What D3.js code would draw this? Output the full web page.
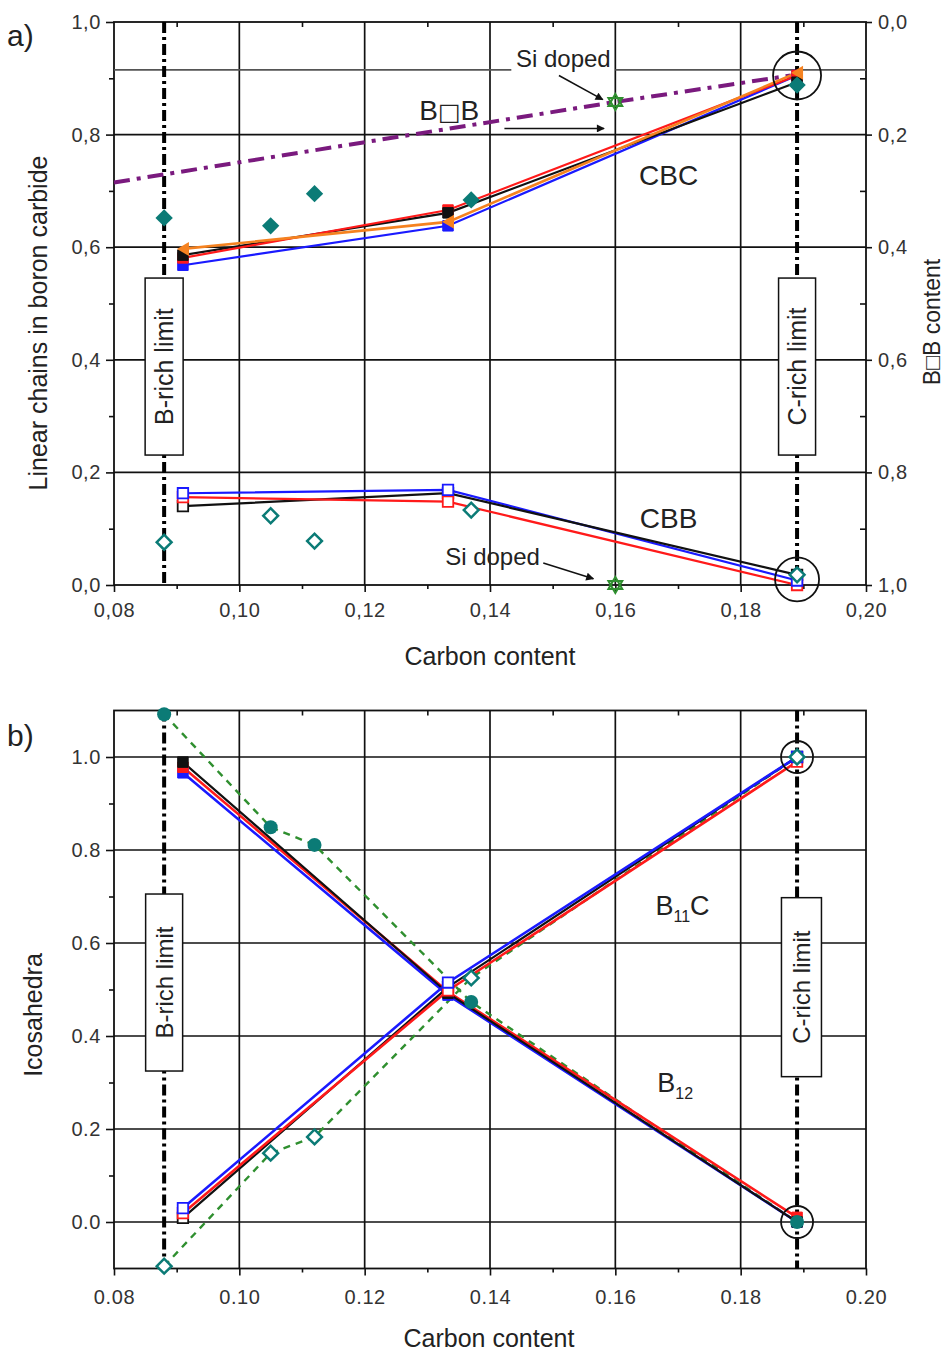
<!DOCTYPE html>
<html><head><meta charset="utf-8">
<script src="https://cdn.jsdelivr.net/npm/d3@7"></script>
<style>body{margin:0;background:#fff}svg{display:block}text{font-family:"Liberation Sans",Arial,sans-serif}</style>
</head><body>
<script>
// ---------- data ----------
const xTicks = [0.08,0.10,0.12,0.14,0.16,0.18,0.20];
const xMinor = [0.09,0.11,0.13,0.15,0.17,0.19];
const yTicksA = [0,0.2,0.4,0.6,0.8,1.0];
const yMinorA = [0.1,0.3,0.5,0.7,0.9];
const yTicksB = [0,0.2,0.4,0.6,0.8,1.0];
const yMinorB = [0.1,0.3,0.5,0.7,0.9];

const calcX = [0.091,0.1333,0.189];
const cbcBlue   = [0.568,0.638,0.905];
const cbcBlack  = [0.586,0.661,0.893];
const cbcRed    = [0.581,0.666,0.905];
const cbcOrange = [0.597,0.645,0.910];
const cbbBlue   = [0.163,0.169,0.008];
const cbbBlack  = [0.140,0.163,0.018];
const cbbRed    = [0.156,0.148,0.000];

const expX = [0.088,0.105,0.112,0.137,0.189];
const cbcExp = [0.652,0.638,0.695,0.684,0.888];
const cbbExp = [0.076,0.123,0.078,0.133,0.018];

const siX = 0.16, siCBC = 0.858, siCBB = 0.0;
const bobX = [0.08,0.16,0.188];
const bobVal = [0.285,0.142,0.095];   // right axis (B□B content)
const siLine = 0.915;

const bRich = 0.088, cRich = 0.189;

const b12Blue  = [0.966,0.488,0.0];
const b12Red   = [0.978,0.495,0.01];
const b12Black = [0.989,0.492,0.0];
const b11cBlue  = [0.030,0.515,1.0];
const b11cRed   = [0.019,0.498,0.99];
const b11cBlack = [0.009,0.505,1.0];
const b12Exp  = [1.092,0.849,0.811,0.473,0.0];
const b11cExp = [-0.095,0.148,0.183,0.525,1.0];

// ---------- setup ----------
const W=949,H=1352;
const svg=d3.select("body").append("svg").attr("width",W).attr("height",H);
const defs=svg.append("defs");
defs.append("marker").attr("id","arr").attr("viewBox","0 0 10 10").attr("refX",9).attr("refY",5)
 .attr("markerWidth",13).attr("markerHeight",8).attr("markerUnits","userSpaceOnUse").attr("orient","auto")
 .append("path").attr("d","M0,0L10,5L0,10z").attr("fill","#111");

const x = d3.scaleLinear([0.08,0.20],[114,866]);
const yA = d3.scaleLinear([0,1],[585,22]);
const yR = d3.scaleLinear([0,1],[22,585]);
const yB = d3.scaleLinear([-0.1,1.1],[1268.5,710.5]);

const TEAL="#0b7b76", GREEN="#2f8f2f", PURPLE="#7a1a7e", ORANGE="#f58220";
const comma = d=>d3.format(".2f")(d).replace(".",",");
const comma1 = d=>d3.format(".1f")(d).replace(".",",");
const dot2 = d3.format(".2f"), dot1 = d3.format(".1f");
const TICKFS = 20;

function styleAxis(g){
  g.selectAll("path.domain").remove();
  g.selectAll("line").attr("stroke","#111").attr("stroke-width",1.6);
  g.selectAll("text").attr("font-size",TICKFS).attr("fill","#333").attr("letter-spacing","0.6px")
   .attr("font-family","Liberation Sans, Arial, sans-serif");
}

function panel(y, top, bottom, yT, yM, xFmt, yFmt, gridY, xPad){
  const g=svg.append("g");
  g.selectAll(".gx").data(xTicks.slice(1,-1)).join("line")
   .attr("x1",d=>x(d)).attr("x2",d=>x(d)).attr("y1",top).attr("y2",bottom)
   .attr("stroke","#111").attr("stroke-width",1.7);
  g.selectAll(".gy").data(gridY).join("line")
   .attr("x1",114).attr("x2",866).attr("y1",d=>y(d)).attr("y2",d=>y(d))
   .attr("stroke","#111").attr("stroke-width",1.7);
  g.append("g").attr("transform",`translate(0,${bottom})`)
   .call(d3.axisBottom(x).tickValues(xTicks).tickSize(7).tickSizeOuter(0).tickPadding(xPad).tickFormat(xFmt)).call(styleAxis);
  g.append("g").attr("transform",`translate(0,${bottom})`)
   .call(d3.axisBottom(x).tickValues(xMinor).tickSize(4).tickFormat("")).call(styleAxis);
  g.append("g").attr("transform",`translate(0,${top})`)
   .call(d3.axisBottom(x).tickValues(xMinor).tickSize(5).tickFormat("")).call(styleAxis);
  g.append("g").attr("transform",`translate(114,0)`)
   .call(d3.axisLeft(y).tickValues(yT).tickSize(8).tickSizeOuter(0).tickPadding(5).tickFormat(yFmt)).call(styleAxis);
  g.append("g").attr("transform",`translate(114,0)`)
   .call(d3.axisLeft(y).tickValues(yM).tickSize(5).tickFormat("")).call(styleAxis);
  g.append("rect").attr("x",114).attr("y",top).attr("width",752).attr("height",bottom-top)
   .attr("fill","none").attr("stroke","#111").attr("stroke-width",1.8);
  return g;
}

function txt(xp,yp,s,size,anchor){return svg.append("text").attr("x",xp).attr("y",yp).attr("font-size",size).attr("text-anchor",anchor||"middle").attr("fill","#222").text(s);}
function vtxt(xp,yp,s,size){return svg.append("text").attr("transform",`translate(${xp},${yp}) rotate(-90)`).attr("text-anchor","middle").attr("font-size",size).attr("fill","#222").text(s);}
function arrow(x1,y1,x2,y2){svg.append("line").attr("x1",x1).attr("y1",y1).attr("x2",x2).attr("y2",y2).attr("stroke","#111").attr("stroke-width",1.5).attr("marker-end","url(#arr)");}

// ---------- panel a ----------
panel(yA,22,585,yTicksA,yMinorA,comma,comma1,[0.2,0.4,0.6,0.8],11);
svg.append("g").attr("transform","translate(866,0)")
  .call(d3.axisRight(yR).tickValues(yTicksA).tickSize(6).tickSizeOuter(0).tickPadding(6).tickFormat(comma1)).call(styleAxis);
svg.append("g").attr("transform","translate(866,0)")
  .call(d3.axisLeft(yR).tickValues(yMinorA).tickSize(6).tickFormat("")).call(styleAxis);

const gapL = x(0.1517)-52, gapR = x(0.1517)+52;
svg.append("line").attr("x1",114).attr("x2",gapL).attr("y1",yA(siLine)).attr("y2",yA(siLine)).attr("stroke","#555").attr("stroke-width",1.7);
svg.append("line").attr("x1",gapR).attr("x2",866).attr("y1",yA(siLine)).attr("y2",yA(siLine)).attr("stroke","#555").attr("stroke-width",1.7);

function limitLine(xv, top, bottom){
  svg.append("line").attr("x1",x(xv)).attr("x2",x(xv)).attr("y1",top).attr("y2",bottom)
   .attr("stroke","#000").attr("stroke-width",4).attr("stroke-dasharray","11,4,3,4");
}
limitLine(bRich,22,585); limitLine(cRich,22,585);

svg.append("path").attr("d",d3.line().x((d,i)=>x(bobX[i])).y(d=>yR(d))(bobVal))
  .attr("fill","none").attr("stroke",PURPLE).attr("stroke-width",4).attr("stroke-dasharray","16,7,4,7");

function calcLine(vals,y,color,w){
  svg.append("path").attr("d",d3.line().x((d,i)=>x(calcX[i])).y(d=>y(d))(vals))
   .attr("fill","none").attr("stroke",color).attr("stroke-width",w||2.2);
}
const sq = d3.symbol(d3.symbolSquare,110);
function squares(vals,y,color,open){
  svg.append("g").selectAll("path").data(vals).join("path").attr("d",sq)
   .attr("transform",(d,i)=>`translate(${x(calcX[i])},${y(d)})`)
   .attr("fill",open?"#fff":color).attr("stroke",color).attr("stroke-width",open?1.8:1);
}
calcLine(cbcBlue,yA,"#1a1aff"); calcLine(cbcBlack,yA,"#111"); calcLine(cbcRed,yA,"#ff1a1a"); calcLine(cbcOrange,yA,ORANGE,2.6);
squares(cbcBlue,yA,"#1a1aff"); squares(cbcRed,yA,"#ff1a1a"); squares(cbcBlack,yA,"#111");
svg.append("g").selectAll("path").data(cbcOrange).join("path")
  .attr("d","M-7,0L5,-7L5,7Z").attr("transform",(d,i)=>`translate(${x(calcX[i])+1},${yA(d)})`).attr("fill",ORANGE);

calcLine(cbbBlue,yA,"#1a1aff"); calcLine(cbbBlack,yA,"#111"); calcLine(cbbRed,yA,"#ff1a1a");
squares(cbbBlack,yA,"#111",true); squares(cbbRed,yA,"#ff1a1a",true); squares(cbbBlue,yA,"#1a1aff",true);

svg.append("g").selectAll("path").data(cbcExp).join("path").attr("d",d3.symbol(d3.symbolSquare,150))
  .attr("transform",(d,i)=>`translate(${x(expX[i])},${yA(d)}) rotate(45)`).attr("fill",TEAL);
svg.append("g").selectAll("path").data(cbbExp).join("path").attr("d",d3.symbol(d3.symbolSquare,110))
  .attr("transform",(d,i)=>`translate(${x(expX[i])},${yA(d)}) rotate(45)`).attr("fill","#fff").attr("stroke",TEAL).attr("stroke-width",2.5);

function hexStar(cx,cy,r){
  const t1=[0,1,2].map(k=>{const a=-Math.PI/2+k*2*Math.PI/3;return [cx+r*Math.cos(a),cy+r*Math.sin(a)];});
  const t2=[0,1,2].map(k=>{const a=Math.PI/2+k*2*Math.PI/3;return [cx+r*Math.cos(a),cy+r*Math.sin(a)];});
  [t1,t2].forEach(t=>svg.append("path").attr("d","M"+t.join("L")+"Z").attr("fill","none").attr("stroke",GREEN).attr("stroke-width",2));
}
hexStar(x(siX),yA(siCBC),8);
hexStar(x(siX),yA(siCBB),8);

svg.append("circle").attr("cx",x(cRich)).attr("cy",yA(0.905)).attr("r",24).attr("fill","none").attr("stroke","#111").attr("stroke-width",1.8);
svg.append("circle").attr("cx",x(cRich)).attr("cy",yA(0.01)).attr("r",22).attr("fill","none").attr("stroke","#111").attr("stroke-width",1.8);

function limitBox(xv,yc,h,w,label,fs){
  const cx=x(xv);
  svg.append("rect").attr("x",cx-w/2).attr("y",yc-h/2).attr("width",w).attr("height",h)
   .attr("fill","#fff").attr("stroke","#111").attr("stroke-width",1.5);
  vtxt(cx+fs*0.36,yc,label,fs);
}
limitBox(bRich,yA(0.388),177,38,"B-rich limit",25);
limitBox(cRich,yA(0.388),177,37,"C-rich limit",25);

txt(x(0.1517),yA(0.92),"Si doped",24);
arrow(x(0.151),yA(0.905),x(0.158),yA(0.862));
const bob=svg.append("text").attr("x",x(0.1335)).attr("y",yA(0.826)).attr("font-size",28).attr("text-anchor","middle").attr("fill","#222");
bob.append("tspan").text("B");
bob.append("tspan").attr("font-family","DejaVu Sans").attr("font-weight","bold").attr("font-size",24).text("□");
bob.append("tspan").text("B");
arrow(x(0.1423),yA(0.811),x(0.1582),yA(0.811));
txt(x(0.1685),yA(0.7105),"CBC",28);
txt(x(0.1685),yA(0.101),"CBB",28);
txt(x(0.1404),yA(0.036),"Si doped",24);
arrow(x(0.1485),yA(0.039),x(0.1565),yA(0.011));

txt(490,665,"Carbon content",25);
vtxt(47,323,"Linear chains in boron carbide",25);
vtxt(940,322,"B□B content",23);
txt(7,46,"a)",30,"start");

// ---------- panel b ----------
panel(yB,710.5,1268.5,yTicksB,yMinorB,dot2,dot1,[0,0.2,0.4,0.6,0.8,1.0],14);
limitLine(bRich,710.5,1268.5); limitLine(cRich,710.5,1268.5);

svg.append("path").attr("d",d3.line().x((d,i)=>x(expX[i])).y(d=>yB(d))(b12Exp))
  .attr("fill","none").attr("stroke",GREEN).attr("stroke-width",2.4).attr("stroke-dasharray","7,6");
svg.append("path").attr("d",d3.line().x((d,i)=>x(expX[i])).y(d=>yB(d))(b11cExp))
  .attr("fill","none").attr("stroke",GREEN).attr("stroke-width",2.4).attr("stroke-dasharray","7,6");

calcLine(b12Blue,yB,"#1a1aff",2.6); calcLine(b12Red,yB,"#ff1a1a",2.6); calcLine(b12Black,yB,"#111",2.2);
calcLine(b11cBlack,yB,"#111",2.2); calcLine(b11cRed,yB,"#ff1a1a",2.6); calcLine(b11cBlue,yB,"#1a1aff",2.6);
squares(b12Blue,yB,"#1a1aff"); squares(b12Red,yB,"#ff1a1a"); squares(b12Black,yB,"#111");
squares(b11cBlack,yB,"#111",true); squares(b11cRed,yB,"#ff1a1a",true); squares(b11cBlue,yB,"#1a1aff",true);

svg.append("g").selectAll("circle").data(b12Exp).join("circle")
  .attr("cx",(d,i)=>x(expX[i])).attr("cy",d=>yB(d)).attr("r",7).attr("fill",TEAL);
svg.append("g").selectAll("path").data(b11cExp).join("path").attr("d",d3.symbol(d3.symbolSquare,110))
  .attr("transform",(d,i)=>`translate(${x(expX[i])},${yB(d)}) rotate(45)`).attr("fill","#fff").attr("stroke",TEAL).attr("stroke-width",2.5);

svg.append("circle").attr("cx",x(cRich)).attr("cy",yB(1.0)).attr("r",16).attr("fill","none").attr("stroke","#111").attr("stroke-width",1.8);
svg.append("circle").attr("cx",x(cRich)).attr("cy",yB(0.0)).attr("r",16).attr("fill","none").attr("stroke","#111").attr("stroke-width",1.8);

limitBox(bRich,yB(0.515),177,37,"B-rich limit",24);
limitBox(0.1897,yB(0.505),179,40,"C-rich limit",24);

function subLabel(xp,yp,main,sub,after){
  const t=svg.append("text").attr("x",xp).attr("y",yp).attr("font-size",27).attr("fill","#222");
  t.append("tspan").text(main);
  t.append("tspan").attr("font-size",16).attr("dy",7).text(sub);
  if(after) t.append("tspan").attr("dy",-7).text(after);
}
subLabel(x(0.1664),yB(0.66),"B","11","C");
subLabel(x(0.1667),yB(0.28),"B","12");

txt(489,1347,"Carbon content",25);
vtxt(42,1015,"Icosahedra",25);
txt(7,746,"b)",30,"start");
</script>
</body></html>
